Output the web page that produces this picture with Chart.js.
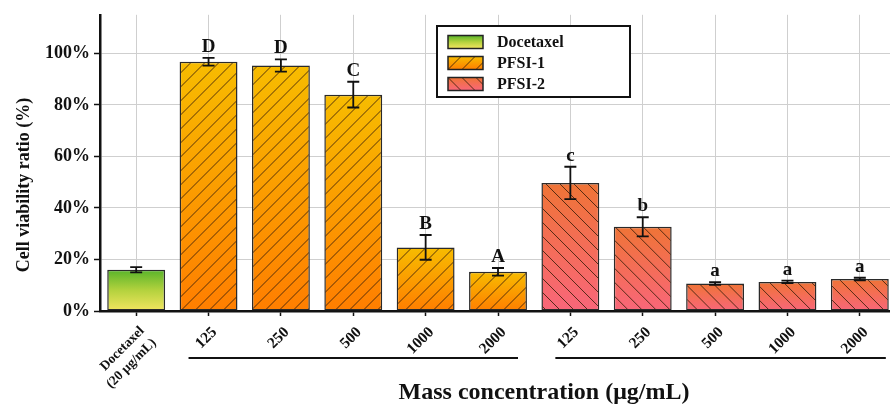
<!DOCTYPE html>
<html>
<head>
<meta charset="utf-8">
<script src="https://cdn.jsdelivr.net/npm/chart.js@4.4.1/dist/chart.umd.min.js"></script>
<style>
  html, body { margin: 0; padding: 0; background: #fff; overflow: hidden; }
  canvas { display: block; }
</style>
</head>
<body>
<canvas id="myChart" width="900" height="405"></canvas>
<script>
// data
const categories = [['Docetaxel', '(20 μg/mL)'], '125', '250', '500', '1000', '2000', '125', '250', '500', '1000', '2000'];
const seriesNames = ['Docetaxel', 'PFSI-1', 'PFSI-2'];
const docetaxelValues = [16, null, null, null, null, null, null, null, null, null, null];
const pfsi1Values = [null, 96.8, 95.3, 84, 24.7, 15.2, null, null, null, null, null];
const pfsi2Values = [null, null, null, null, null, null, 49.7, 32.7, 10.7, 11.3, 12.4];
const docetaxelErrors = [1, null, null, null, null, null, null, null, null, null, null];
const pfsi1Errors = [null, 1.5, 2.4, 5, 4.8, 1.5, null, null, null, null, null];
const pfsi2Errors = [null, null, null, null, null, null, 6.3, 3.7, 0.5, 0.5, 0.5];
const groupLetters = ['', 'D', 'D', 'C', 'B', 'A', 'c', 'b', 'a', 'a', 'a'];
const yTicks = [0, 20, 40, 60, 80, 100];

const SERIF = '"Liberation Serif", "Times New Roman", serif';
const INK = '#111';
const gradStops = [
  [[0, '#58b42a'], [0.5, '#b4d23e'], [1, '#f4e660']],
  [[0, '#f7bc00'], [1, '#ff7e00']],
  [[0, '#ef7436'], [1, '#f9667a']]
];
const hatchDir = [0, 1, -1];

function makeGradient(ctx, top, bottom, stops) {
  const g = ctx.createLinearGradient(0, top, 0, bottom);
  stops.forEach(s => g.addColorStop(s[0], s[1]));
  return g;
}

function barFill(i) {
  return (c) => {
    const chart = c.chart;
    if (c.type !== 'data' || c.raw == null || !chart.chartArea) return 'rgba(0,0,0,0)';
    const y = chart.scales.y;
    return makeGradient(chart.ctx, y.getPixelForValue(c.raw), y.getPixelForValue(0), gradStops[i]);
  };
}

function hatch(ctx, x0, y0, x1, y1, dir, gap) {
  if (!dir) return;
  ctx.save();
  ctx.beginPath();
  ctx.rect(x0, y0, x1 - x0, y1 - y0);
  ctx.clip();
  ctx.strokeStyle = 'rgba(60,30,10,0.85)';
  ctx.lineWidth = 1;
  const h = y1 - y0;
  ctx.beginPath();
  for (let s = Math.floor((x0 - h) / gap) * gap; s < x1 + h; s += gap) {
    if (dir > 0) { ctx.moveTo(s, y1); ctx.lineTo(s + h, y0); }
    else { ctx.moveTo(s, y0); ctx.lineTo(s + h, y1); }
  }
  ctx.stroke();
  ctx.restore();
}

const errorSets = [docetaxelErrors, pfsi1Errors, pfsi2Errors];

const decorPlugin = {
  id: 'decor',
  afterDatasetDraw(chart, args) {
    const ctx = chart.ctx;
    const dir = hatchDir[args.index];
    args.meta.data.forEach((el, j) => {
      if (chart.data.datasets[args.index].data[j] == null) return;
      const p = el.getProps(['x', 'y', 'base', 'width'], true);
      hatch(ctx, p.x - p.width / 2 + 1, p.y + 1, p.x + p.width / 2 - 1, p.base - 1, dir, 14);
    });
  },
  afterDatasetsDraw(chart) {
    const ctx = chart.ctx;
    const xs = chart.scales.x, ys = chart.scales.y;
    ctx.save();
    ctx.strokeStyle = INK;
    ctx.fillStyle = INK;
    ctx.lineWidth = 1.8;
    chart.data.datasets.forEach((ds, i) => {
      ds.data.forEach((v, j) => {
        if (v == null) return;
        const e = errorSets[i][j];
        const x = xs.getPixelForValue(j);
        const yt = ys.getPixelForValue(v + e);
        const yb = ys.getPixelForValue(v - e);
        ctx.beginPath();
        ctx.moveTo(x, yt); ctx.lineTo(x, yb);
        ctx.moveTo(x - 6, yt); ctx.lineTo(x + 6, yt);
        ctx.moveTo(x - 6, yb); ctx.lineTo(x + 6, yb);
        ctx.stroke();
        if (groupLetters[j]) {
          ctx.font = 'bold 19px ' + SERIF;
          ctx.textAlign = 'center';
          ctx.textBaseline = 'alphabetic';
          ctx.fillText(groupLetters[j], x, yt - 6);
        }
      });
    });
    ctx.restore();
  },
  afterDraw(chart) {
    const ctx = chart.ctx;
    const xs = chart.scales.x;
    ctx.save();
    // group brackets under the tick labels
    ctx.strokeStyle = INK;
    ctx.lineWidth = 2;
    ctx.beginPath();
    ctx.moveTo(xs.getPixelForTick(1) - 20, 358); ctx.lineTo(xs.getPixelForTick(5) + 20, 358);
    ctx.moveTo(xs.getPixelForTick(6) - 15, 358); ctx.lineTo(xs.getPixelForTick(10) + 26, 358);
    ctx.stroke();

    // axis titles
    ctx.fillStyle = INK;
    ctx.font = 'bold 24px ' + SERIF;
    ctx.textAlign = 'center';
    ctx.textBaseline = 'alphabetic';
    ctx.fillText('Mass concentration (μg/mL)', 544, 399);
    ctx.save();
    ctx.translate(24, 185);
    ctx.rotate(-Math.PI / 2);
    ctx.font = 'bold 18px ' + SERIF;
    ctx.textBaseline = 'middle';
    ctx.fillText('Cell viability ratio (%)', 0, 0);
    ctx.restore();

    // legend box
    ctx.fillStyle = '#fff';
    ctx.fillRect(437, 26, 193, 71);
    ctx.strokeStyle = INK;
    ctx.lineWidth = 2;
    ctx.strokeRect(437, 26, 193, 71);
    chart.data.datasets.forEach((ds, i) => {
      const cy = 42 + i * 21;
      const x0 = 448, w = 35, h = 13, y0 = cy - h / 2;
      ctx.fillStyle = makeGradient(ctx, y0, y0 + h, gradStops[i]);
      ctx.fillRect(x0, y0, w, h);
      hatch(ctx, x0, y0, x0 + w, y0 + h, hatchDir[i], 14);
      ctx.strokeStyle = '#222';
      ctx.lineWidth = 1.5;
      ctx.strokeRect(x0, y0, w, h);
      ctx.fillStyle = INK;
      ctx.font = 'bold 16px ' + SERIF;
      ctx.textAlign = 'left';
      ctx.textBaseline = 'middle';
      ctx.fillText(ds.label, 497, cy + 1);
    });
    ctx.restore();
  }
};

const datasets = [docetaxelValues, pfsi1Values, pfsi2Values].map((vals, i) => ({
  label: seriesNames[i],
  data: vals,
  backgroundColor: barFill(i),
  borderColor: '#2a2a2a',
  borderWidth: 1.5,
  borderSkipped: false,
  grouped: false,
  barPercentage: 0.8,
  categoryPercentage: 1
}));

const config = {
  type: 'bar',
  data: { labels: categories, datasets: datasets },
  options: {
    responsive: false,
    animation: false,
    layout: { padding: { top: 14, right: 4, left: 0, bottom: 0 } },
    plugins: { legend: { display: false }, tooltip: { enabled: false } },
    scales: {
      x: {
        afterFit: (s) => { s.height = 94; },
        grid: { offset: false, color: '#cfcfcf', lineWidth: 1, tickColor: INK, tickLength: 5, tickWidth: 1.5 },
        border: { color: INK, width: 2.5 },
        ticks: {
          autoSkip: false,
          minRotation: 45,
          maxRotation: 45,
          padding: 7,
          labelOffset: 6,
          color: INK,
          font: (c) => ({ family: SERIF, weight: 'bold', size: c.index === 0 ? 13.5 : 15.5, lineHeight: 1.25 })
        }
      },
      y: {
        min: 0,
        max: 115,
        afterFit: (s) => { s.width = 100; },
        afterBuildTicks: (s) => { s.ticks = yTicks.map(v => ({ value: v })); },
        grid: { color: '#cfcfcf', lineWidth: 1, tickColor: INK, tickLength: 6, tickWidth: 1.5 },
        border: { color: INK, width: 2.5 },
        ticks: {
          padding: 4,
          color: INK,
          font: { family: SERIF, weight: 'bold', size: 18 },
          callback: (v) => v + '%'
        }
      }
    }
  },
  plugins: [decorPlugin]
};

const myChart = new Chart(document.getElementById('myChart'), config);
</script>
</body>
</html>
